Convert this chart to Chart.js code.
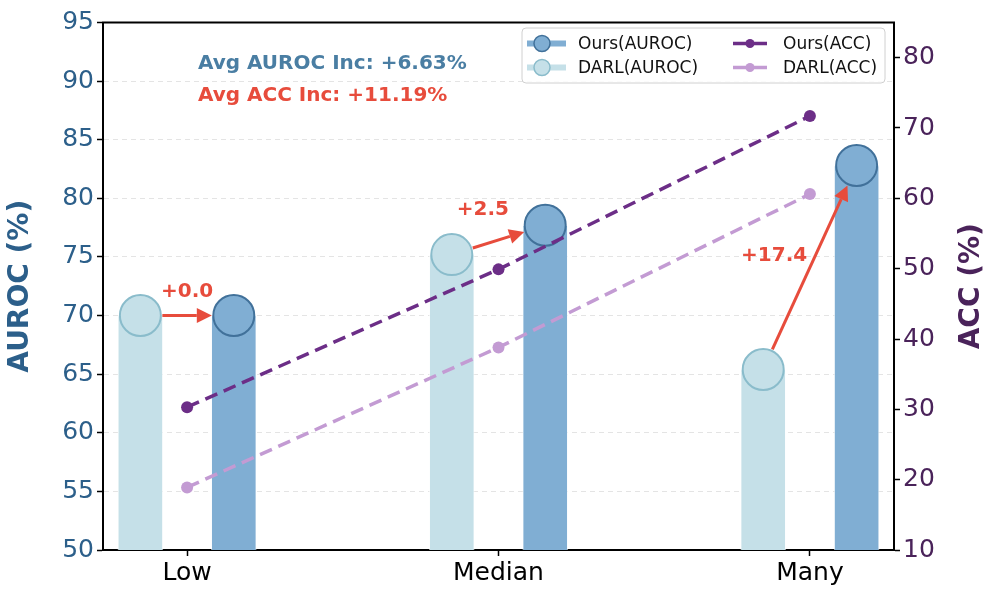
<!DOCTYPE html>
<html>
<head>
<meta charset="utf-8">
<script src="https://cdn.jsdelivr.net/npm/chart.js@4.4.1/dist/chart.umd.min.js"></script>
<style>
  html, body { margin: 0; padding: 0; background: #fff; }
  #wrap { width: 997px; height: 597px; }
</style>
</head>
<body>
<div id="wrap"><canvas id="gainChart" width="997" height="597"></canvas></div>
<script>
// data
const categories = ['Low', 'Median', 'Many'];
const darlAuroc = [70.0, 75.2, 65.4];
const oursAuroc = [70.0, 77.7, 82.8];
const oursAcc = [30.3, 49.9, 71.7];
const darlAcc = [18.9, 38.8, 60.6];
const gainLabels = ['+0.0', '+2.5', '+17.4'];
const aurocTicks = [50, 55, 60, 65, 70, 75, 80, 85, 90, 95];
const accTicks = [10, 20, 30, 40, 50, 60, 70, 80];
const avgAurocText = 'Avg AUROC Inc: +6.63%';
const avgAccText = 'Avg ACC Inc: +11.19%';

const FONT = "'DejaVu Sans', sans-serif";
const RED = '#e74c3c';
const OURS_BAR = '#80aed3';
const DARL_BAR = '#c5e0e8';
const OURS_EDGE = '#41719a';
const DARL_EDGE = '#8abccb';
const OURS_ACC = '#6c2e87';
const DARL_ACC = '#c39bd3';
const AUROC_COL = '#2c5f8a';
const ACC_COL = '#4a235a';

// where the gain numbers sit, in data units
const labelSpots = [[0, 72.0], [0.95, 79.0], [1.885, 75.1]];

const pts = (vals, off) => vals.map((v, i) => ({ x: i + off, y: v }));

const overlay = {
  id: 'overlay',
  afterDatasetsDraw(chart) {
    const { ctx, scales } = chart;
    const sx = scales.x, sy = scales.y;

    // arrows DARL -> Ours
    ctx.save();
    ctx.strokeStyle = RED;
    ctx.fillStyle = RED;
    ctx.lineWidth = 3;
    for (let i = 0; i < categories.length; i++) {
      const x0 = sx.getPixelForValue(i - 0.15), y0 = sy.getPixelForValue(darlAuroc[i]);
      const x1 = sx.getPixelForValue(i + 0.15), y1 = sy.getPixelForValue(oursAuroc[i]);
      const dx = x1 - x0, dy = y1 - y0, len = Math.hypot(dx, dy);
      const ux = dx / len, uy = dy / len;
      const sxp = x0 + ux * 22, syp = y0 + uy * 22;
      const ex = x1 - ux * 22, ey = y1 - uy * 22;
      const hl = 15, hw = 7.5;
      ctx.beginPath();
      ctx.moveTo(sxp, syp);
      ctx.lineTo(ex - ux * hl, ey - uy * hl);
      ctx.stroke();
      ctx.beginPath();
      ctx.moveTo(ex, ey);
      ctx.lineTo(ex - ux * hl - uy * hw, ey - uy * hl + ux * hw);
      ctx.lineTo(ex - ux * hl + uy * hw, ey - uy * hl - ux * hw);
      ctx.closePath();
      ctx.fill();
    }
    // gain labels
    ctx.font = 'bold 20px ' + FONT;
    ctx.textAlign = 'center';
    ctx.textBaseline = 'middle';
    labelSpots.forEach((p, i) => {
      ctx.fillText(gainLabels[i], sx.getPixelForValue(p[0]), sy.getPixelForValue(p[1]));
    });
    ctx.restore();
  },
  afterDraw(chart) {
    const { ctx, chartArea: a } = chart;
    ctx.save();
    // top spine
    ctx.strokeStyle = '#000';
    ctx.lineWidth = 2;
    ctx.beginPath();
    ctx.moveTo(a.left - 1, a.top);
    ctx.lineTo(a.right + 1, a.top);
    ctx.stroke();

    // right axis title, reading bottom to top
    ctx.save();
    ctx.translate(972, (a.top + a.bottom) / 2);
    ctx.rotate(-Math.PI / 2);
    ctx.font = 'bold 28px ' + FONT;
    ctx.fillStyle = ACC_COL;
    ctx.textAlign = 'center';
    ctx.textBaseline = 'middle';
    ctx.fillText('ACC (%)', 0, 0);
    ctx.restore();

    // average gains text
    const tx = a.left + 0.12 * (a.right - a.left);
    ctx.font = 'bold 20px ' + FONT;
    ctx.textAlign = 'left';
    ctx.textBaseline = 'alphabetic';
    ctx.fillStyle = '#4a7ea3';
    ctx.fillText(avgAurocText, tx, a.top + 46);
    ctx.fillStyle = RED;
    ctx.fillText(avgAccText, tx, a.top + 78);

    // legend box
    const bx = 522, by = 28, bw = 363, bh = 55;
    ctx.fillStyle = 'rgba(255,255,255,0.85)';
    ctx.strokeStyle = '#d0d0d0';
    ctx.lineWidth = 1;
    ctx.beginPath();
    ctx.roundRect(bx, by, bw, bh, 4);
    ctx.fill();
    ctx.stroke();

    const rows = [43.5, 67.5];
    ctx.font = '17px ' + FONT;
    ctx.textBaseline = 'middle';
    // AUROC entries
    [[OURS_BAR, OURS_EDGE, 'Ours(AUROC)'], [DARL_BAR, DARL_EDGE, 'DARL(AUROC)']].forEach((e, k) => {
      const y = rows[k];
      ctx.strokeStyle = e[0];
      ctx.lineWidth = 6;
      ctx.beginPath();
      ctx.moveTo(527, y);
      ctx.lineTo(566, y);
      ctx.stroke();
      ctx.fillStyle = e[0];
      ctx.strokeStyle = e[1];
      ctx.lineWidth = 1.5;
      ctx.beginPath();
      ctx.arc(542, y, 8, 0, Math.PI * 2);
      ctx.fill();
      ctx.stroke();
      ctx.fillStyle = '#111';
      ctx.fillText(e[2], 578, y + 1);
    });
    // ACC entries
    [[OURS_ACC, 'Ours(ACC)'], [DARL_ACC, 'DARL(ACC)']].forEach((e, k) => {
      const y = rows[k];
      ctx.strokeStyle = e[0];
      ctx.lineWidth = 3.5;
      ctx.beginPath();
      ctx.moveTo(733, y);
      ctx.lineTo(767, y);
      ctx.stroke();
      ctx.fillStyle = e[0];
      ctx.beginPath();
      ctx.arc(750, y, 4.5, 0, Math.PI * 2);
      ctx.fill();
      ctx.fillStyle = '#111';
      ctx.fillText(e[1], 783, y + 1);
    });
    ctx.restore();
  }
};

new Chart(document.getElementById('gainChart').getContext('2d'), {
  type: 'bar',
  data: {
    datasets: [
      {
        type: 'bar', label: 'DARL(AUROC)', data: pts(darlAuroc, -0.15),
        backgroundColor: DARL_BAR, borderColor: 'rgba(255,255,255,0.6)', borderWidth: 1,
        barThickness: 45, grouped: false, yAxisID: 'y', order: 6
      },
      {
        type: 'bar', label: 'Ours(AUROC)', data: pts(oursAuroc, 0.15),
        backgroundColor: OURS_BAR, borderColor: 'rgba(255,255,255,0.6)', borderWidth: 1,
        barThickness: 45, grouped: false, yAxisID: 'y', order: 6
      },
      {
        type: 'line', label: 'DARL marker', data: pts(darlAuroc, -0.15), showLine: false,
        pointRadius: 20.5, pointBackgroundColor: DARL_BAR, pointBorderColor: DARL_EDGE,
        pointBorderWidth: 2, yAxisID: 'y', order: 5
      },
      {
        type: 'line', label: 'Ours marker', data: pts(oursAuroc, 0.15), showLine: false,
        pointRadius: 20.5, pointBackgroundColor: OURS_BAR, pointBorderColor: OURS_EDGE,
        pointBorderWidth: 2, yAxisID: 'y', order: 5
      },
      {
        type: 'line', label: 'DARL(ACC)', data: pts(darlAcc, 0),
        borderColor: DARL_ACC, borderWidth: 3.5, borderDash: [13, 7],
        pointRadius: 6, pointBackgroundColor: DARL_ACC, pointBorderWidth: 0,
        yAxisID: 'y2', order: 2
      },
      {
        type: 'line', label: 'Ours(ACC)', data: pts(oursAcc, 0),
        borderColor: OURS_ACC, borderWidth: 3.5, borderDash: [13, 7],
        pointRadius: 6, pointBackgroundColor: OURS_ACC, pointBorderWidth: 0,
        yAxisID: 'y2', order: 1
      }
    ]
  },
  options: {
    responsive: false,
    animation: false,
    devicePixelRatio: 1,
    layout: { padding: { top: 20, left: 0, right: 0, bottom: 0 } },
    plugins: { legend: { display: false }, tooltip: { enabled: false } },
    scales: {
      x: {
        type: 'linear', min: -0.27, max: 2.27, offset: false,
        afterBuildTicks: s => { s.ticks = categories.map((c, i) => ({ value: i })); },
        afterFit: s => { s.height = 47; },
        ticks: {
          callback: v => categories[v],
          color: '#000', font: { family: FONT, size: 25 }, padding: 2, maxRotation: 0
        },
        grid: { display: true, offset: false, drawOnChartArea: false, tickLength: 6, tickColor: '#000', tickWidth: 1.5 },
        border: { color: '#000', width: 2 }
      },
      y: {
        position: 'left', min: 50, max: 95,
        afterBuildTicks: s => { s.ticks = aurocTicks.map(v => ({ value: v })); },
        afterFit: s => { s.width = 103; },
        ticks: { color: AUROC_COL, font: { family: FONT, size: 25 }, padding: 3 },
        grid: { color: '#e4e4e4', lineWidth: 1, tickLength: 6, tickColor: '#000', tickWidth: 1.5 },
        border: { color: '#000', width: 2, dash: [5, 4] },
        title: { display: true, text: 'AUROC (%)', color: AUROC_COL, font: { family: FONT, size: 28, weight: 'bold' }, padding: 4 }
      },
      y2: {
        position: 'right', min: 10, max: 85,
        afterBuildTicks: s => { s.ticks = accTicks.map(v => ({ value: v })); },
        afterFit: s => { s.width = 103; },
        ticks: { color: ACC_COL, font: { family: FONT, size: 25 }, padding: 3 },
        grid: { drawOnChartArea: false, tickLength: 6, tickColor: '#000', tickWidth: 1.5 },
        border: { color: '#000', width: 2 }
      }
    }
  },
  plugins: [overlay]
});
</script>
</body>
</html>
